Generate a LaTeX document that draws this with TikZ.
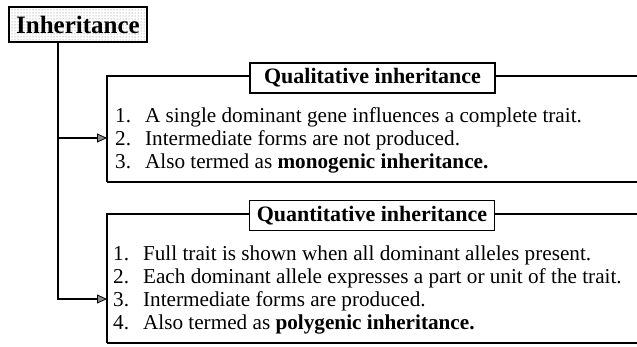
\documentclass[tikz,border=0pt]{standalone}
\usepackage{fontspec}
\setmainfont{Liberation Serif}
\usetikzlibrary{arrows.meta,patterns}

\tikzset{
  rootbox/.style={draw, line width=1.8pt, pattern=dots, pattern color=black!55,
    inner sep=0pt, minimum width=138pt, minimum height=35pt,
    font=\fontsize{25}{28}\selectfont\bfseries},
  titlebox/.style={draw, line width=1.6pt, fill=white, inner sep=0pt,
    minimum width=245pt, minimum height=30pt,
    font=\fontsize{22}{24}\selectfont\bfseries},
  frameline/.style={line width=1.5pt},
  baseline/.style={line width=2.4pt},
  itemlist/.style={anchor=base west, inner sep=0pt,
    font=\fontsize{21.2}{23}\selectfont},
  branch/.style={line width=1.4pt,
    -{Triangle[length=10pt,width=9pt,fill=black!45,line width=0.8pt]}},
}

\newcommand{\itemrows}[1]{\begin{tabular}[t]{@{}l@{\hspace{14pt}}l@{}}#1\end{tabular}}

\begin{document}
\begin{tikzpicture}[x=1pt,y=-1pt]
\useasboundingbox (0,0) rectangle (637,346);

% root node
\node[rootbox] (inh) at (78,24.5) {Inheritance};

% first group: frame open on the right
\draw[frameline] (637,76) -- (107,76) -- (107,182);
\draw[baseline] (107,182) -- (637,182);
\node[titlebox] (qual) at (372.5,78) {Qualitative inheritance};
\node[itemlist] (qualitems) at (115,122) {\itemrows{
  1. & A single dominant gene influences a complete trait.\\
  2. & Intermediate forms are not produced.\\
  3. & Also termed as \textbf{monogenic inheritance.}}};

% second group
\draw[frameline] (637,214) -- (107,214) -- (107,343);
\draw[baseline] (107,343) -- (637,343);
\node[titlebox] (quan) at (372,215.5) {Quantitative inheritance};
\node[itemlist] (quanitems) at (113,260) {\itemrows{
  1. & Full trait is shown when all dominant alleles present.\\
  2. & Each dominant allele expresses a part or unit of the trait.\\
  3. & Intermediate forms are produced.\\
  4. & Also termed as \textbf{polygenic inheritance.}}};

% connectors from the root to both groups
\coordinate (trunk) at (58,42);
\coordinate (qualin) at (107,138);
\coordinate (quanin) at (107,299);
\draw[branch] (trunk) |- (qualin);
\draw[branch] (trunk) |- (quanin);
\end{tikzpicture}
\end{document}
